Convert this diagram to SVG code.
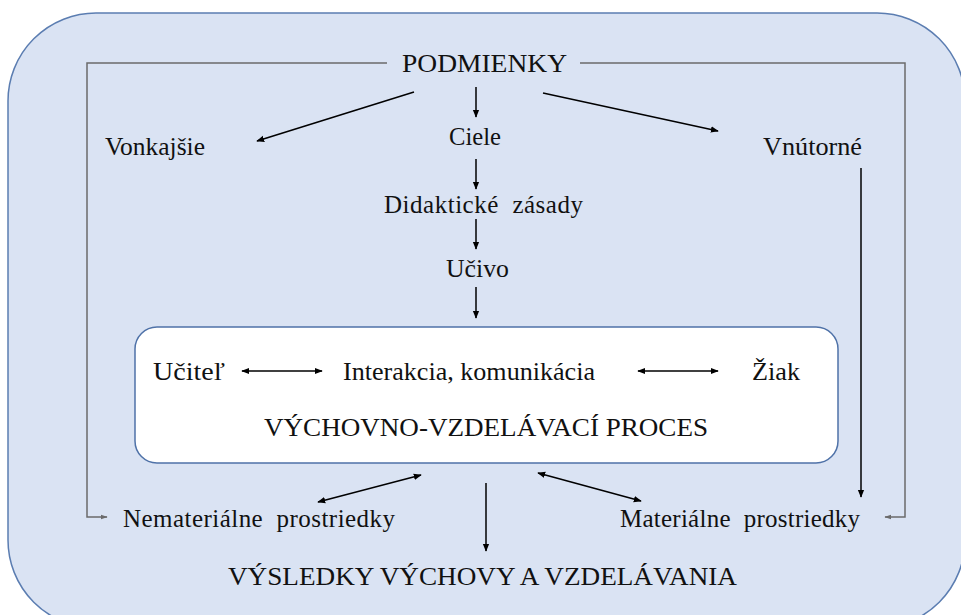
<svg xmlns="http://www.w3.org/2000/svg" width="961" height="615" viewBox="0 0 961 615">
<defs>
<marker id="ah" viewBox="0 0 10 10" refX="9" refY="5" markerWidth="8" markerHeight="8" markerUnits="userSpaceOnUse" orient="auto-start-reverse">
<path d="M0,1 L10,5 L0,9 z" fill="#000"/>
</marker>
<marker id="ahg" viewBox="0 0 10 10" refX="9" refY="5" markerWidth="7" markerHeight="7" markerUnits="userSpaceOnUse" orient="auto">
<path d="M0,1.5 L10,5 L0,8.5 z" fill="#6b6b6b"/>
</marker>
</defs>
<style>
.t{font-size:25px;fill:#111}
.a{stroke:#000;stroke-width:1.5;fill:none;marker-end:url(#ah)}
.d{stroke:#000;stroke-width:1.5;fill:none;marker-end:url(#ah);marker-start:url(#ah)}
.g{stroke:#6b6b6b;stroke-width:1.5;fill:none;marker-end:url(#ahg)}
</style>
<g id="frame">
<rect x="8" y="13" width="957" height="615" rx="88" ry="88" fill="#DAE3F3" stroke="#5B7DB1" stroke-width="1.5"/>
</g>
<g id="process-box">
<rect x="135" y="327" width="703" height="136" rx="22" ry="22" fill="#fff" stroke="#4F72A8" stroke-width="1.5"/>
</g>
<g id="connectors">
<polyline class="g" points="387,63 87,63 87,517 107,517"/>
<polyline class="g" points="580,63 905,63 905,517 885,517"/>
<line class="a" x1="476" y1="87" x2="476" y2="117"/>
<line class="a" x1="476" y1="159" x2="476" y2="189"/>
<line class="a" x1="476" y1="219" x2="476" y2="249"/>
<line class="a" x1="476" y1="287" x2="476" y2="318"/>
<line class="a" x1="414" y1="92" x2="257" y2="141"/>
<line class="a" x1="543" y1="93" x2="718" y2="131"/>
<line class="a" x1="861" y1="168" x2="861" y2="497"/>
<line class="d" x1="242" y1="371" x2="322" y2="371"/>
<line class="d" x1="638" y1="371" x2="718" y2="371"/>
<line class="d" x1="318" y1="502" x2="421" y2="475"/>
<line class="d" x1="641" y1="501" x2="538" y2="473"/>
<line class="a" x1="486" y1="483" x2="486" y2="551"/>
</g>
<g font-family="Tinos, 'Liberation Serif', 'Noto Serif', 'DejaVu Serif', FreeSerif, Times, serif">
<g id="podmienky"><text class="t" x="402" y="72" textLength="165" lengthAdjust="spacingAndGlyphs">PODMIENKY</text></g>
<g id="ciele"><text class="t" x="449" y="145" textLength="52" lengthAdjust="spacingAndGlyphs">Ciele</text></g>
<g id="zasady"><text class="t" x="384" y="213" textLength="199" lengthAdjust="spacing" xml:space="preserve">Didaktické  zásady</text></g>
<g id="ucivo"><text class="t" x="446" y="277" textLength="63" lengthAdjust="spacingAndGlyphs">Učivo</text></g>
<g id="vonkajsie"><text class="t" x="105" y="155" textLength="100" lengthAdjust="spacingAndGlyphs">Vonkajšie</text></g>
<g id="vnutorne"><text class="t" x="763" y="155" textLength="99" lengthAdjust="spacingAndGlyphs">Vnútorné</text></g>
<g id="ucitel"><text class="t" x="153" y="380" textLength="72" lengthAdjust="spacingAndGlyphs">Učiteľ</text></g>
<g id="interakcia"><text class="t" x="343" y="380" textLength="252" lengthAdjust="spacingAndGlyphs">Interakcia, komunikácia</text></g>
<g id="ziak"><text class="t" x="752" y="380" textLength="48" lengthAdjust="spacingAndGlyphs">Žiak</text></g>
<g id="proces"><text class="t" x="264" y="436" textLength="444" lengthAdjust="spacingAndGlyphs">VÝCHOVNO-VZDELÁVACÍ PROCES</text></g>
<g id="nematerialne"><text class="t" x="123" y="527" textLength="272" lengthAdjust="spacing" xml:space="preserve">Nemateriálne  prostriedky</text></g>
<g id="materialne"><text class="t" x="620" y="527" textLength="240" lengthAdjust="spacing" xml:space="preserve">Materiálne  prostriedky</text></g>
<g id="vysledky"><text class="t" x="228" y="585" textLength="509" lengthAdjust="spacingAndGlyphs">VÝSLEDKY VÝCHOVY A VZDELÁVANIA</text></g>
</g>
</svg>
